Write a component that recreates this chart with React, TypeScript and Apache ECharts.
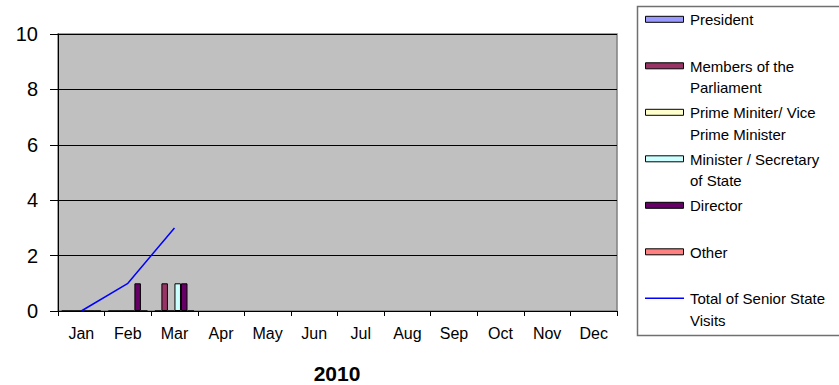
import React, { useEffect, useRef } from "react";
import * as echarts from "echarts";

const months = ["Jan", "Feb", "Mar", "Apr", "May", "Jun", "Jul", "Aug", "Sep", "Oct", "Nov", "Dec"];
const yearTitle = "2010";

const barNames = [
  "President",
  "Members of the Parliament",
  "Prime Miniter/ Vice Prime Minister",
  "Minister / Secretary of State",
  "Director",
  "Other",
];
const legendLabels = [
  "President",
  "Members of the\nParliament",
  "Prime Miniter/ Vice\nPrime Minister",
  "Minister / Secretary\nof State",
  "Director",
  "Other",
  "Total of Senior State\nVisits",
];
const barColors = ["#9999FF", "#993366", "#FFFFCC", "#CCFFFF", "#660066", "#FF8080"];

const presidentValues = [0, 0, 0, null, null, null, null, null, null, null, null, null];
const membersValues = [0, 0, 1, null, null, null, null, null, null, null, null, null];
const primeMinisterValues = [0, 0, 0, null, null, null, null, null, null, null, null, null];
const ministerValues = [0, 0, 1, null, null, null, null, null, null, null, null, null];
const directorValues = [0, 1, 1, null, null, null, null, null, null, null, null, null];
const otherValues = [0, 0, 0, null, null, null, null, null, null, null, null, null];
const barValues = [presidentValues, membersValues, primeMinisterValues, ministerValues, directorValues, otherValues];

const totalName = "Total of Senior State Visits";
const totalValues = [0, 1, 3, null, null, null, null, null, null, null, null, null];
const lineColor = "#0000FF";

const FONT = "'Liberation Sans', Arial, sans-serif";

export default function App() {
  const ref = useRef<HTMLDivElement>(null);

  useEffect(() => {
    if (!ref.current) return;
    const chart = echarts.init(ref.current, null, { renderer: "svg" });

    const legendGraphics: any[] = [];
    legendGraphics.push({
      type: "rect",
      shape: { x: 637.5, y: 6.5, width: 220, height: 329 },
      style: { fill: "#FFFFFF", stroke: "#707070", lineWidth: 1.5 },
      z: 0,
    });
    legendLabels.forEach((label, i) => {
      const rowY = 19.3 + i * 46.5;
      if (i < barColors.length) {
        legendGraphics.push({
          type: "rect",
          shape: { x: 645.5, y: rowY - 3, width: 38, height: 6 },
          style: { fill: barColors[i], stroke: "#000000", lineWidth: 1 },
          z: 1,
        });
      } else {
        legendGraphics.push({
          type: "line",
          shape: { x1: 645, y1: rowY, x2: 684, y2: rowY },
          style: { stroke: lineColor, lineWidth: 1.5 },
          z: 1,
        });
      }
      legendGraphics.push({
        type: "text",
        x: 690,
        y: rowY - 10.5,
        style: {
          text: label,
          font: `15px ${FONT}`,
          fill: "#000000",
          lineHeight: 21.5,
          verticalAlign: "top",
          align: "left",
        },
        z: 1,
      });
    });
    legendGraphics.push({
      type: "text",
      x: 337,
      y: 373.5,
      style: {
        text: yearTitle,
        font: `bold 21px ${FONT}`,
        fill: "#000000",
        align: "center",
        verticalAlign: "middle",
      },
    });

    const series: any[] = barNames.map((name, i) => ({
      name,
      type: "bar",
      data: barValues[i],
      barGap: "0%",
      barCategoryGap: "16%",
      itemStyle: { color: barColors[i], borderColor: "#000000", borderWidth: 1 },
    }));
    series.push({
      name: totalName,
      type: "line",
      data: totalValues,
      symbol: "none",
      connectNulls: false,
      lineStyle: { color: lineColor, width: 1.5 },
      itemStyle: { color: lineColor },
      z: 5,
    });

    chart.setOption({
      animation: false,
      backgroundColor: "#FFFFFF",
      textStyle: { fontFamily: FONT },
      grid: {
        left: 58,
        top: 34,
        right: 222,
        bottom: 74,
        show: true,
        backgroundColor: "#C0C0C0",
        borderColor: "#808080",
        borderWidth: 1.5,
      },
      xAxis: {
        type: "category",
        data: months,
        boundaryGap: true,
        axisLine: { lineStyle: { color: "#000000", width: 1 } },
        axisTick: { show: true, alignWithLabel: false, length: 5, lineStyle: { color: "#000000" } },
        axisLabel: { color: "#000000", fontSize: 16, margin: 14, fontFamily: FONT, interval: 0 },
        splitLine: { show: false },
      },
      yAxis: {
        type: "value",
        min: 0,
        max: 10,
        interval: 2,
        axisLine: { show: true, lineStyle: { color: "#000000", width: 1 } },
        axisTick: { show: true, length: 8, lineStyle: { color: "#000000" } },
        axisLabel: { color: "#000000", fontSize: 20, margin: 20, fontFamily: FONT },
        splitLine: { show: true, lineStyle: { color: "#000000", width: 1 } },
      },
      series,
      graphic: legendGraphics,
    });

    return () => chart.dispose();
  }, []);

  return (
    <div
      ref={ref}
      style={{ position: "fixed", left: 0, top: 0, width: 839, height: 385 }}
    />
  );
}
